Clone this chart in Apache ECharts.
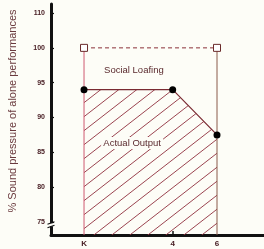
<!DOCTYPE html>
<html><head><meta charset="utf-8">
<script src="https://cdn.jsdelivr.net/npm/echarts@6/dist/echarts.min.js"></script>
<style>html,body{margin:0;padding:0;background:#fdfdf7;}#c{width:264px;height:249px;}</style>
</head><body><div id="c"></div>
<script>
// ---- data ----
const xTickValues = [0, 4, 6];
const xTickLabels = ['K', '4', '6'];
const yTickValues = [75, 80, 85, 90, 95, 100, 105];
const yTickLabels = ['75', '80', '85', '90', '95', '100', '110'];
const actualX = [0, 4, 6];
const actualY = [94, 94, 87.5];
const loafingX = [0, 6];
const loafingY = [100, 100];
const yTitle = '% Sound pressure of alone performances';
const loafingLabel = 'Social Loafing';
const actualLabel = 'Actual Output';

// ---- layout ----
const yMin = 73.13, yMax = 106.3, xMin = -1.49, xMax = 8.12;

function hatch() {
  const W = 18, H = 14;
  const c = document.createElement('canvas');
  c.width = W; c.height = H;
  const g = c.getContext('2d');
  g.strokeStyle = '#8e2f3c'; g.lineWidth = 0.9;
  for (let k = -1; k <= 1; k++) {
    g.beginPath(); g.moveTo(0, H + k * H); g.lineTo(W, k * H); g.stroke();
  }
  return c;
}

const chart = echarts.init(document.getElementById('c'), null, {renderer: 'canvas'});
const labelFont = {fontFamily: 'Liberation Sans', fontWeight: 'bold', color: '#4a2026'};
chart.setOption({
  animation: false,
  backgroundColor: '#fdfdf7',
  grid: {left: 51, right: 0, top: 4, bottom: 14},
  xAxis: {
    type: 'value', min: xMin, max: xMax,
    axisLine: {onZero: false, lineStyle: {color: '#111', width: 3}},
    splitLine: {show: false},
    axisTick: {inside: true, length: 4, customValues: [4], lineStyle: {color: '#111', width: 1.5}},
    axisLabel: Object.assign({customValues: xTickValues, fontSize: 8, margin: 5,
      formatter: v => xTickLabels[xTickValues.indexOf(v)]}, labelFont)
  },
  yAxis: {
    type: 'value', min: yMin, max: yMax,
    axisLine: {show: true, onZero: false, lineStyle: {color: '#111', width: 3}},
    splitLine: {show: false},
    axisTick: {show: true, inside: true, length: 3, customValues: yTickValues, lineStyle: {color: '#111', width: 1.2}},
    axisLabel: Object.assign({customValues: yTickValues, fontSize: 7, margin: 6,
      formatter: v => yTickLabels[yTickValues.indexOf(v)]}, labelFont)
  },
  series: [
    { // hatched actual output
      type: 'line', z: 1,
      data: actualX.map((x, i) => [x, actualY[i]]),
      symbol: 'none', lineStyle: {width: 0},
      areaStyle: {origin: 'start', color: {image: hatch(), repeat: 'repeat'}, opacity: 1}
    },
    { // left vertical
      type: 'line', z: 3, symbol: 'none',
      data: [[actualX[0], yMin], [loafingX[0], loafingY[0]]],
      lineStyle: {color: '#cf5a70', width: 1}
    },
    { // right vertical
      type: 'line', z: 3, symbol: 'none',
      data: [[actualX[2], yMin], [loafingX[1], loafingY[1]]],
      lineStyle: {color: '#8a5a4a', width: 1}
    },
    { // actual output line
      type: 'line', z: 4,
      data: actualX.map((x, i) => [x, actualY[i]]),
      symbol: 'circle', symbolSize: 7,
      itemStyle: {color: '#000'},
      lineStyle: {color: '#7a2a32', width: 1.2}
    },
    { // social loafing
      type: 'line', z: 5,
      data: loafingX.map((x, i) => [x, loafingY[i]]),
      symbol: 'rect', symbolSize: 7,
      itemStyle: {color: '#fff', borderColor: '#6a2a2a', borderWidth: 1},
      lineStyle: {color: '#8a3038', width: 1, type: [4, 3]}
    }
  ]
});

function p(x, y) { return chart.convertToPixel({gridIndex: 0}, [x, y]); }
const sl = p(2.25, 96.7), ao = p(2.17, 86.35), br = p(xMin, 74.6);
const txt = {fontFamily: 'Liberation Sans', fill: '#5a2a2e', align: 'center', verticalAlign: 'middle'};
chart.setOption({
  graphic: [
    {type: 'text', x: sl[0], y: sl[1], z: 10, style: Object.assign({text: loafingLabel, fontSize: 9.5}, txt)},
    {type: 'rect', x: ao[0] - 31, y: ao[1] - 6, z: 9, shape: {width: 62, height: 12}, style: {fill: '#fdfdf7'}},
    {type: 'text', x: ao[0], y: ao[1], z: 10, style: Object.assign({text: actualLabel, fontSize: 9.5}, txt)},
    {type: 'text', x: 13, y: 111, rotation: Math.PI / 2, z: 10,
      style: Object.assign({text: yTitle, fontSize: 11}, txt, {fill: '#6a3a3e'})},
    {type: 'rect', x: br[0] - 3, y: br[1] - 1.5, z: 20, shape: {width: 6, height: 3}, style: {fill: '#fdfdf7'}},
    {type: 'line', z: 21, shape: {x1: br[0] - 3.5, y1: br[1] - 0.5, x2: br[0] + 3.5, y2: br[1] - 3}, style: {stroke: '#111', lineWidth: 1.2}},
    {type: 'line', z: 21, shape: {x1: br[0] - 3.5, y1: br[1] + 3, x2: br[0] + 3.5, y2: br[1] + 0.5}, style: {stroke: '#111', lineWidth: 1.2}}
  ]
});
</script></body></html>
